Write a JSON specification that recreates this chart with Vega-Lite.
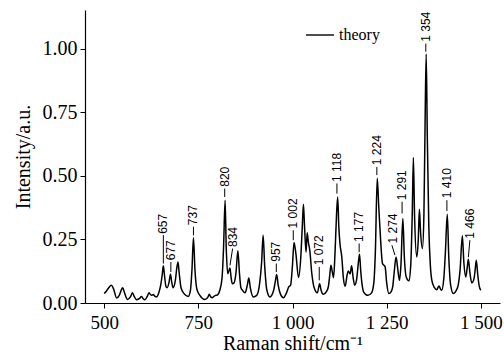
{
  "$schema": "https://vega.github.io/schema/vega-lite/v6.json",
  "width": 415,
  "height": 293,
  "autosize": {"type": "none"},
  "padding": {"left": 85, "top": 10, "right": 4, "bottom": 55},
  "background": "white",
  "config": {
    "view": {"stroke": null},
    "axis": {
      "grid": false,
      "domainColor": "black",
      "domainWidth": 1.2,
      "tickColor": "black",
      "tickSize": 5,
      "labelColor": "black",
      "titleColor": "black",
      "labelFont": "Liberation Serif",
      "titleFont": "Liberation Serif",
      "labelFontSize": 19,
      "titleFontSize": 20,
      "titleFontWeight": "normal"
    }
  },
  "datasets": {
    "spectrum": [
      {"x":500,"y":0.037},{"x":505,"y":0.045},{"x":512,"y":0.06},{"x":519,"y":0.07},{"x":525,"y":0.055},{"x":533,"y":0.02},{"x":540,"y":0.03},{"x":545,"y":0.05},{"x":549,"y":0.06},{"x":554,"y":0.04},{"x":562,"y":0.014},{"x":570,"y":0.025},{"x":575,"y":0.04},{"x":580,"y":0.025},{"x":586,"y":0.013},{"x":594,"y":0.018},{"x":599,"y":0.026},{"x":603,"y":0.018},{"x":608,"y":0.013},{"x":614,"y":0.025},{"x":619,"y":0.04},{"x":623,"y":0.033},{"x":626,"y":0.03},{"x":630,"y":0.033},{"x":635,"y":0.026},{"x":639,"y":0.024},{"x":645,"y":0.04},{"x":650,"y":0.07},{"x":654,"y":0.11},{"x":657,"y":0.146},{"x":660,"y":0.11},{"x":664,"y":0.065},{"x":667,"y":0.06},{"x":672,"y":0.08},{"x":676,"y":0.113},{"x":679,"y":0.085},{"x":683,"y":0.06},{"x":689,"y":0.09},{"x":693,"y":0.14},{"x":696,"y":0.161},{"x":699,"y":0.12},{"x":704,"y":0.06},{"x":712,"y":0.037},{"x":723,"y":0.026},{"x":729,"y":0.05},{"x":733,"y":0.13},{"x":737,"y":0.257},{"x":741,"y":0.13},{"x":746,"y":0.055},{"x":754,"y":0.03},{"x":767,"y":0.014},{"x":775,"y":0.022},{"x":779,"y":0.034},{"x":783,"y":0.024},{"x":787,"y":0.021},{"x":794,"y":0.029},{"x":800,"y":0.031},{"x":807,"y":0.05},{"x":813,"y":0.1},{"x":817,"y":0.22},{"x":821,"y":0.404},{"x":824,"y":0.22},{"x":828,"y":0.115},{"x":834,"y":0.138},{"x":837,"y":0.1},{"x":840,"y":0.076},{"x":845,"y":0.08},{"x":850,"y":0.12},{"x":855,"y":0.205},{"x":859,"y":0.12},{"x":863,"y":0.06},{"x":867,"y":0.05},{"x":874,"y":0.04},{"x":880,"y":0.07},{"x":884,"y":0.098},{"x":888,"y":0.06},{"x":896,"y":0.024},{"x":905,"y":0.03},{"x":913,"y":0.08},{"x":918,"y":0.16},{"x":922,"y":0.266},{"x":926,"y":0.15},{"x":932,"y":0.05},{"x":940,"y":0.024},{"x":950,"y":0.05},{"x":955,"y":0.09},{"x":958,"y":0.112},{"x":962,"y":0.07},{"x":968,"y":0.035},{"x":976,"y":0.021},{"x":984,"y":0.04},{"x":990,"y":0.063},{"x":995,"y":0.07},{"x":1000,"y":0.15},{"x":1004,"y":0.238},{"x":1009,"y":0.194},{"x":1016,"y":0.1},{"x":1022,"y":0.18},{"x":1026,"y":0.3},{"x":1029,"y":0.388},{"x":1032,"y":0.3},{"x":1036,"y":0.2},{"x":1039,"y":0.276},{"x":1042,"y":0.24},{"x":1046,"y":0.206},{"x":1051,"y":0.12},{"x":1057,"y":0.063},{"x":1066,"y":0.04},{"x":1072,"y":0.076},{"x":1076,"y":0.05},{"x":1082,"y":0.034},{"x":1090,"y":0.045},{"x":1095,"y":0.063},{"x":1099,"y":0.11},{"x":1102,"y":0.148},{"x":1106,"y":0.12},{"x":1109,"y":0.1},{"x":1113,"y":0.2},{"x":1117,"y":0.35},{"x":1120,"y":0.417},{"x":1123,"y":0.3},{"x":1126,"y":0.234},{"x":1131,"y":0.18},{"x":1135,"y":0.1},{"x":1140,"y":0.066},{"x":1145,"y":0.11},{"x":1148,"y":0.126},{"x":1153,"y":0.115},{"x":1157,"y":0.146},{"x":1161,"y":0.1},{"x":1165,"y":0.07},{"x":1170,"y":0.09},{"x":1175,"y":0.16},{"x":1178,"y":0.192},{"x":1181,"y":0.13},{"x":1185,"y":0.07},{"x":1189,"y":0.043},{"x":1200,"y":0.03},{"x":1210,"y":0.04},{"x":1216,"y":0.08},{"x":1220,"y":0.2},{"x":1225,"y":0.49},{"x":1229,"y":0.38},{"x":1233,"y":0.273},{"x":1239,"y":0.155},{"x":1246,"y":0.142},{"x":1250,"y":0.08},{"x":1256,"y":0.037},{"x":1262,"y":0.045},{"x":1266,"y":0.063},{"x":1270,"y":0.12},{"x":1275,"y":0.181},{"x":1279,"y":0.14},{"x":1284,"y":0.089},{"x":1288,"y":0.15},{"x":1293,"y":0.332},{"x":1297,"y":0.18},{"x":1302,"y":0.102},{"x":1309,"y":0.087},{"x":1314,"y":0.15},{"x":1318,"y":0.35},{"x":1321,"y":0.572},{"x":1324,"y":0.35},{"x":1330,"y":0.181},{"x":1334,"y":0.25},{"x":1337,"y":0.369},{"x":1340,"y":0.28},{"x":1345,"y":0.214},{"x":1349,"y":0.35},{"x":1352,"y":0.7},{"x":1355,"y":0.979},{"x":1358,"y":0.65},{"x":1362,"y":0.3},{"x":1366,"y":0.15},{"x":1370,"y":0.089},{"x":1377,"y":0.06},{"x":1383,"y":0.052},{"x":1389,"y":0.067},{"x":1393,"y":0.055},{"x":1396,"y":0.05},{"x":1402,"y":0.1},{"x":1406,"y":0.2},{"x":1411,"y":0.349},{"x":1415,"y":0.18},{"x":1420,"y":0.07},{"x":1427,"y":0.037},{"x":1435,"y":0.05},{"x":1440,"y":0.07},{"x":1445,"y":0.13},{"x":1451,"y":0.264},{"x":1455,"y":0.16},{"x":1460,"y":0.102},{"x":1464,"y":0.14},{"x":1467,"y":0.172},{"x":1471,"y":0.12},{"x":1476,"y":0.079},{"x":1482,"y":0.096},{"x":1485,"y":0.13},{"x":1488,"y":0.168},{"x":1492,"y":0.11},{"x":1496,"y":0.065},{"x":1500,"y":0.05}
    ],
    "labels": [
      {"label":"657","px":657,"px2":657,"y1":0.155,"y2":0.267,"tx":657,"ty":0.272},
      {"label":"677","px":677,"px2":677,"y1":0.122,"y2":0.161,"tx":677,"ty":0.168},
      {"label":"737","px":737,"px2":737,"y1":0.266,"y2":0.3,"tx":737,"ty":0.306},
      {"label":"820","px":820,"px2":820,"y1":0.417,"y2":0.45,"tx":820,"ty":0.457},
      {"label":"834","px":834,"px2":841,"y1":0.148,"y2":0.214,"tx":842,"ty":0.22},
      {"label":"957","px":957,"px2":957,"y1":0.122,"y2":0.155,"tx":957,"ty":0.162},
      {"label":"1 002","px":1002,"px2":1002,"y1":0.247,"y2":0.286,"tx":1002,"ty":0.293},
      {"label":"1 072","px":1071,"px2":1071,"y1":0.089,"y2":0.142,"tx":1071,"ty":0.148},
      {"label":"1 118","px":1118,"px2":1118,"y1":0.43,"y2":0.47,"tx":1118,"ty":0.476},
      {"label":"1 177","px":1177,"px2":1177,"y1":0.2,"y2":0.234,"tx":1177,"ty":0.24},
      {"label":"1 224","px":1224,"px2":1224,"y1":0.503,"y2":0.535,"tx":1224,"ty":0.542},
      {"label":"1 274","px":1272,"px2":1264,"y1":0.188,"y2":0.227,"tx":1266,"ty":0.234},
      {"label":"1 291","px":1291,"px2":1291,"y1":0.352,"y2":0.398,"tx":1291,"ty":0.404},
      {"label":"1 354","px":1354,"px2":1354,"y1":0.988,"y2":1.02,"tx":1354,"ty":1.027},
      {"label":"1 410","px":1410,"px2":1410,"y1":0.362,"y2":0.404,"tx":1410,"ty":0.412},
      {"label":"1 466","px":1467,"px2":1471,"y1":0.18,"y2":0.247,"tx":1471,"ty":0.253}
    ]
  },
  "layer": [
    {
      "data": {"name": "spectrum"},
      "mark": {"type": "line", "interpolate": "monotone", "strokeWidth": 1.5},
      "encoding": {
        "x": {
          "field": "x", "type": "quantitative",
          "scale": {"domain": [449, 1551], "nice": false, "zero": false},
          "axis": {
            "values": [500, 750, 1000, 1250, 1500],
            "labelExpr": "replace(format(datum.value, ','), ',', ' ')",
            "title": "Raman shift/cm⁻¹",
            "labelPadding": 5,
            "titlePadding": 1
          }
        },
        "y": {
          "field": "y", "type": "quantitative",
          "scale": {"domain": [0, 1.152], "nice": false},
          "axis": {
            "values": [0, 0.25, 0.5, 0.75, 1.0],
            "format": ".2f",
            "title": "Intensity/a.u.",
            "labelFontSize": 20,
            "labelPadding": 3,
            "titlePadding": 9
          }
        },
        "color": {
          "datum": "theory",
          "type": "nominal",
          "scale": {"range": ["black"]},
          "legend": {
            "title": null,
            "orient": "none",
            "legendX": 220,
            "legendY": 10,
            "symbolType": "stroke",
            "symbolSize": 784,
            "symbolStrokeWidth": 1.4,
            "labelFont": "Liberation Serif",
            "labelFontSize": 16,
            "labelColor": "black",
            "padding": 0
          }
        }
      }
    },
    {
      "data": {"name": "labels"},
      "mark": {"type": "rule", "color": "black", "strokeWidth": 1},
      "encoding": {
        "x": {"field": "px", "type": "quantitative"},
        "x2": {"field": "px2"},
        "y": {"field": "y1", "type": "quantitative"},
        "y2": {"field": "y2"}
      }
    },
    {
      "data": {"name": "labels"},
      "mark": {"type": "text", "angle": 270, "align": "left", "baseline": "middle", "font": "Liberation Sans", "fontSize": 12, "color": "black"},
      "encoding": {
        "x": {"field": "tx", "type": "quantitative"},
        "y": {"field": "ty", "type": "quantitative"},
        "text": {"field": "label"}
      }
    }
  ]
}
